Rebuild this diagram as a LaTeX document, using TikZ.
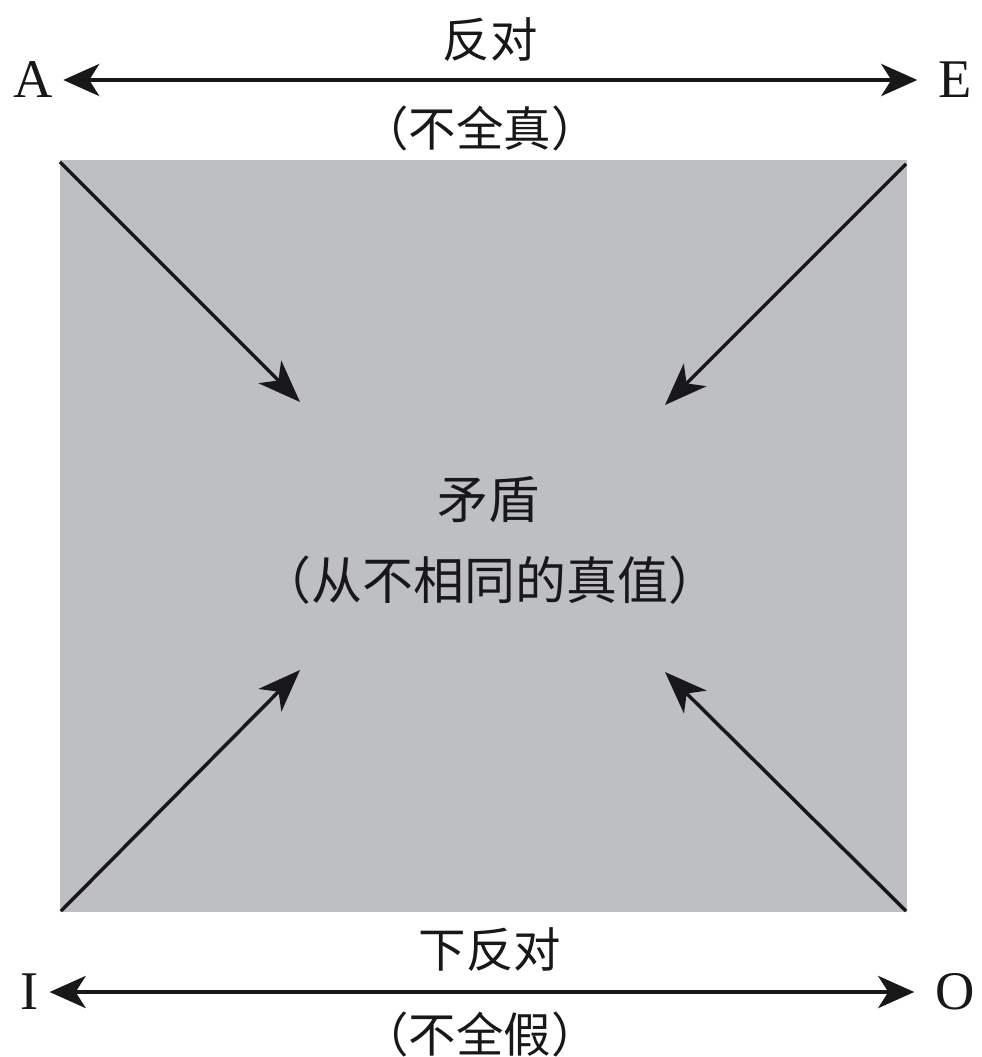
\documentclass[tikz,border=0pt]{standalone}
\usepackage{fontspec}
\setmainfont{Liberation Serif}
\newfontfamily\cjk{Noto Sans CJK SC}
\usepackage{tikz}
\usetikzlibrary{arrows.meta}
\definecolor{SqInk}{RGB}{24,24,26}
\definecolor{SqGray}{RGB}{189,191,195}

\begin{document}
\begin{tikzpicture}[
x=0.02cm,
y=-0.02cm,
every node/.style={text=SqInk,outer sep=0pt},
cornerLetter/.style={font=\fontsize{31}{33}\selectfont,inner sep=6pt},
relLabel/.style={font=\cjk\fontsize{27}{30}\selectfont,inner sep=0pt,align=center},
midLabel/.style={font=\cjk\fontsize{29}{40}\selectfont,inner sep=0pt,align=center},
pairflow/.style={{Stealth[length=0.72cm,width=0.64cm,inset=0.2cm]}-{Stealth[length=0.72cm,width=0.64cm,inset=0.2cm]},line width=2.5pt,draw=SqInk},
diagflow/.style={-{Stealth[length=0.85cm,width=0.64cm,inset=0.24cm]},line width=2pt,draw=SqInk}
]

\path[use as bounding box] (0,0) rectangle (982,1057);

\fill[SqGray] (60,160) rectangle (907,912);

\coordinate (nw) at (60,162);
\coordinate (ne) at (906,164);
\coordinate (sw) at (61,911);
\coordinate (se) at (906,911);

\coordinate (nwTip) at (300,402);
\coordinate (neTip) at (665,405);
\coordinate (swTip) at (300,670);
\coordinate (seTip) at (665,672);

\node[cornerLetter] (A) at (33,80) {A};
\node[cornerLetter,inner xsep=12pt] (E) at (955,80) {E};
\node[cornerLetter] (I) at (30,992) {I};
\node[cornerLetter,inner xsep=12pt] (O) at (955,992) {O};

\node[relLabel] (contrary) at (490,40) {反对};
\node[relLabel] (contraryNote) at (480,128) {（不全真）};
\node[relLabel] (subcontrary) at (490,950) {下反对};
\node[relLabel] (subcontraryNote) at (480,1034) {（不全假）};

\node[midLabel] (contradict) at (488,500) {矛盾};
\node[midLabel] (contradictNote) at (490,580) {（从不相同的真值）};

\draw[pairflow] (A) -- (E);
\draw[pairflow] (I) -- (O);

\draw[diagflow] (nw) -- (nwTip);
\draw[diagflow] (ne) -- (neTip);
\draw[diagflow] (sw) -- (swTip);
\draw[diagflow] (se) -- (seTip);

\end{tikzpicture}
\end{document}
